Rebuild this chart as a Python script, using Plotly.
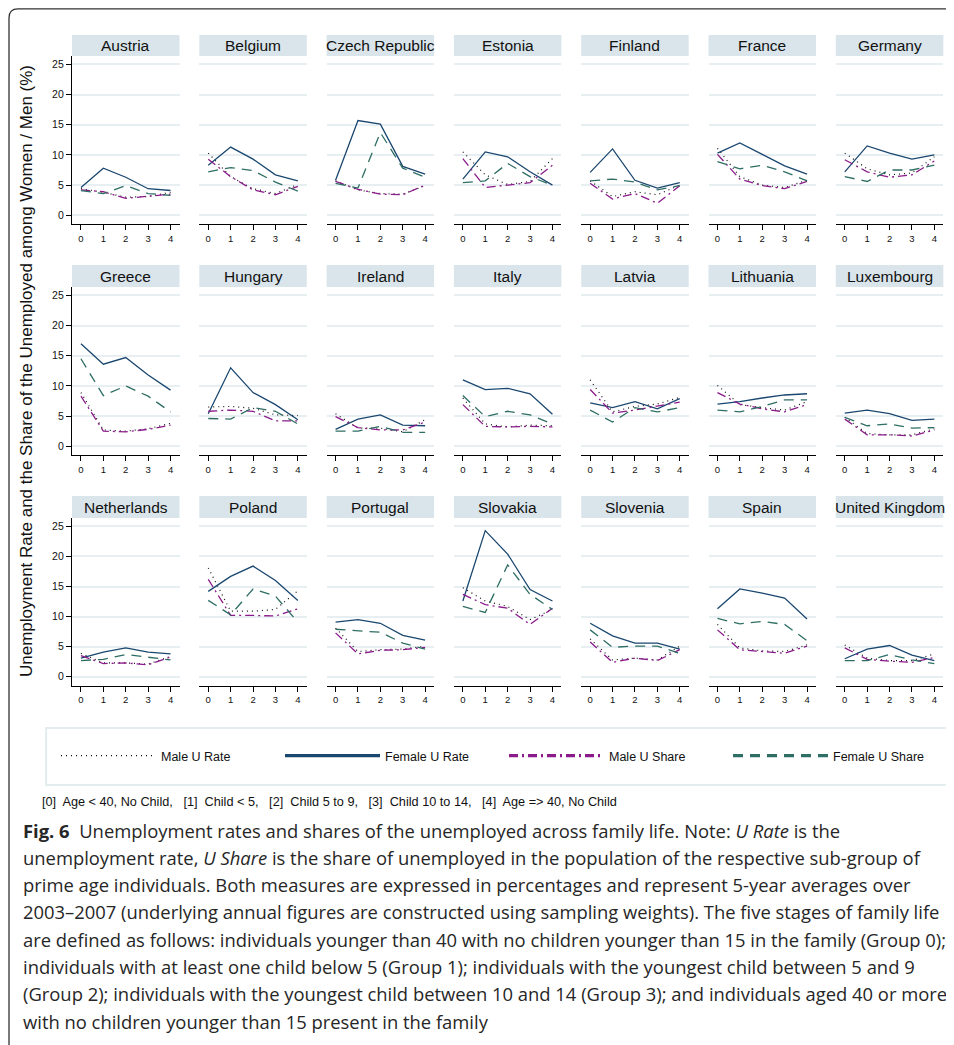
import plotly.graph_objects as go

countries = ["Austria", "Belgium", "Czech Republic", "Estonia", "Finland", "France", "Germany",
             "Greece", "Hungary", "Ireland", "Italy", "Latvia", "Lithuania", "Luxembourg",
             "Netherlands", "Poland", "Portugal", "Slovakia", "Slovenia", "Spain", "United Kingdom"]
stages = [0, 1, 2, 3, 4]

male_rate = [
    [4.4, 3.8, 3.0, 3.1, 3.8], [10.3, 6.4, 4.4, 3.6, 5.1], [5.7, 4.2, 3.6, 3.5, 4.9],
    [10.5, 6.7, 5.1, 5.6, 9.4], [5.7, 3.1, 3.9, 3.4, 5.0], [11.1, 6.4, 5.0, 4.6, 5.8],
    [10.3, 7.7, 6.7, 7.0, 9.7], [8.9, 2.7, 2.5, 2.9, 3.8], [6.5, 6.6, 6.3, 5.2, 5.1],
    [5.4, 3.0, 3.0, 2.4, 4.4], [8.0, 3.7, 3.2, 3.5, 3.4], [11.0, 5.7, 6.6, 7.0, 8.1],
    [10.1, 6.9, 6.4, 6.0, 7.4], [4.8, 2.1, 1.9, 1.9, 2.9], [3.9, 2.3, 2.3, 2.1, 3.4],
    [18.1, 10.9, 10.9, 11.2, 14.3], [8.1, 4.2, 4.5, 4.6, 5.1], [14.8, 12.6, 11.7, 9.5, 11.2],
    [6.3, 2.8, 3.1, 2.8, 5.1], [8.7, 4.8, 4.3, 4.2, 5.3], [5.3, 3.1, 2.7, 2.7, 3.8]]

female_rate = [
    [4.6, 7.8, 6.3, 4.4, 4.1], [8.3, 11.3, 9.3, 6.7, 5.7], [5.8, 15.7, 15.1, 8.1, 6.8],
    [6.0, 10.5, 9.7, 7.2, 5.0], [7.1, 11.0, 5.8, 4.5, 5.4], [10.3, 12.0, 10.1, 8.2, 6.8],
    [7.2, 11.5, 10.3, 9.3, 10.0], [17.0, 13.6, 14.7, 11.8, 9.3], [5.4, 13.0, 8.9, 6.9, 4.4],
    [2.8, 4.5, 5.2, 3.5, 3.4], [11.0, 9.4, 9.6, 8.7, 5.3], [7.2, 6.4, 7.4, 6.2, 7.9],
    [7.0, 7.4, 8.0, 8.5, 8.7], [5.5, 6.0, 5.4, 4.3, 4.5], [3.1, 4.1, 4.8, 4.1, 3.8],
    [14.2, 16.7, 18.4, 16.0, 12.7], [9.1, 9.5, 8.9, 6.9, 6.1], [12.6, 24.3, 20.4, 14.5, 12.6],
    [8.9, 6.8, 5.6, 5.6, 4.6], [11.3, 14.6, 13.9, 13.1, 9.6], [3.0, 4.6, 5.2, 3.6, 2.7]]

male_share = [
    [4.2, 3.9, 2.8, 3.1, 3.5], [9.3, 6.4, 4.2, 3.4, 4.8], [5.6, 4.3, 3.5, 3.4, 5.0],
    [9.4, 4.6, 5.0, 5.4, 8.3], [5.3, 2.7, 3.6, 2.0, 4.9], [10.1, 6.0, 4.9, 4.4, 5.6],
    [9.2, 7.2, 6.3, 6.7, 9.0], [8.3, 2.5, 2.4, 2.8, 3.5], [5.8, 6.0, 5.8, 4.2, 4.2],
    [4.9, 3.1, 2.7, 2.7, 4.0], [6.9, 3.3, 3.2, 3.3, 3.2], [9.4, 5.5, 6.0, 6.6, 7.3],
    [8.9, 7.0, 6.2, 5.7, 6.9], [4.5, 1.9, 1.9, 1.7, 2.7], [3.5, 2.2, 2.3, 2.0, 3.3],
    [16.2, 10.2, 10.2, 10.1, 11.3], [7.3, 3.8, 4.4, 4.5, 4.9], [13.7, 12.0, 11.4, 8.7, 11.4],
    [5.8, 2.4, 3.1, 2.7, 4.5], [7.8, 4.5, 4.2, 3.9, 5.1], [4.8, 2.9, 2.6, 2.4, 3.2]]

female_share = [
    [4.1, 3.6, 4.9, 3.6, 3.3], [7.2, 7.9, 7.4, 5.5, 4.0], [5.3, 4.5, 13.7, 7.8, 6.3],
    [5.4, 5.7, 8.6, 6.4, 5.0], [5.7, 6.0, 5.5, 4.2, 4.9], [8.9, 7.7, 8.3, 7.2, 5.7],
    [6.4, 5.6, 7.5, 7.5, 8.3], [14.5, 8.4, 10.0, 8.3, 5.7], [4.6, 4.5, 6.4, 5.8, 3.7],
    [2.5, 2.5, 3.3, 2.3, 2.3], [8.4, 4.9, 5.8, 5.2, 3.7], [6.0, 4.0, 6.4, 5.7, 6.4],
    [6.0, 5.7, 6.6, 7.7, 7.7], [4.8, 3.4, 3.7, 3.0, 3.1], [2.7, 2.9, 3.7, 3.2, 2.8],
    [12.7, 10.3, 14.6, 13.4, 9.1], [7.9, 7.7, 7.4, 5.6, 4.6], [11.7, 10.7, 18.6, 13.7, 11.2],
    [7.8, 4.9, 5.1, 5.1, 3.9], [9.7, 8.8, 9.2, 8.7, 6.0], [2.7, 2.7, 3.7, 2.8, 2.2]]

y_ticks = [0, 5, 10, 15, 20, 25]
series_names = ["Male U Rate", "Female U Rate", "Male U Share", "Female U Share"]

caption_lines = [
    "<b>Fig. 6</b>  Unemployment rates and shares of the unemployed across family life. Note: <i>U Rate</i> is the",
    "unemployment rate, <i>U Share</i> is the share of unemployed in the population of the respective sub-group of",
    "prime age individuals. Both measures are expressed in percentages and represent 5-year averages over",
    "2003–2007 (underlying annual figures are constructed using sampling weights). The five stages of family life",
    "are defined as follows: individuals younger than 40 with no children younger than 15 in the family (Group 0);",
    "individuals with at least one child below 5 (Group 1); individuals with the youngest child between 5 and 9",
    "(Group 2); individuals with the youngest child between 10 and 14 (Group 3); and individuals aged 40 or more",
    "with no children younger than 15 present in the family",
]
stage_note = "[0]  Age < 40, No Child,   [1]  Child < 5,   [2]  Child 5 to 9,   [3]  Child 10 to 14,   [4]  Age => 40, No Child"
y_title = "Unemployment Rate and the Share of the Unemployed among Women / Men (%)"

# ---------------- styling / geometry ----------------
# page body has an 8px margin: figure is sized to fit the window and
# positions below are given in window pixels
OFF = 8
FW, FH = 954 - OFF, 1045 - OFF
def px(x):
    return (x - OFF) / FW
def py(y):
    return 1 - (y - OFF) / FH

styles = [
    dict(color="#111111", width=1.2, dash="1px,4px"),
    dict(color="#1a476f", width=1.3, dash="solid"),
    dict(color="#8b1a8b", width=1.3, dash="9px,4px,2px,4px"),
    dict(color="#2e6e64", width=1.3, dash="10px,7px"),
]
legend_styles = [
    dict(color="#111111", width=1.2, dash="1px,4px"),
    dict(color="#1a476f", width=3.2, dash="solid"),
    dict(color="#8b1a8b", width=3.2, dash="9px,4px,2px,4px"),
    dict(color="#2e6e64", width=3.2, dash="10px,7px"),
]
all_series = [male_rate, female_rate, male_share, female_share]

col_x0 = [72 + i * 127.3 for i in range(7)]
panel_w = 107.5
row_top = [56, 287, 518]
row_bot = [224, 455, 685.5]
strip_top = [35, 265, 496]

SANS = "Liberation Sans, Arial, sans-serif"

fig = go.Figure()
layout = dict(
    width=FW, height=FH, margin=dict(l=0, r=0, t=0, b=0),
    paper_bgcolor="white", plot_bgcolor="white",
    showlegend=True,
)
shapes = []
annotations = []

for k, country in enumerate(countries):
    r, c = divmod(k, 7)
    xa = "xaxis" if k == 0 else f"xaxis{k+1}"
    ya = "yaxis" if k == 0 else f"yaxis{k+1}"
    xr = "x" if k == 0 else f"x{k+1}"
    yr = "y" if k == 0 else f"y{k+1}"
    x0, x1 = col_x0[c], col_x0[c] + panel_w
    layout[xa] = dict(
        domain=[px(x0), px(x1)], anchor=yr, range=[-0.4, 4.4],
        tickvals=stages, ticktext=[str(s) for s in stages],
        showgrid=False, zeroline=False, showline=True, linecolor="black", linewidth=1.3,
        ticks="outside", ticklen=5, tickwidth=1, tickcolor="black",
        tickfont=dict(family=SANS, size=9.5, color="#111"), fixedrange=True,
    )
    first = (c == 0)
    layout[ya] = dict(
        domain=[py(row_bot[r]), py(row_top[r])], anchor=xr, range=[-1.45, 26.4],
        tickvals=y_ticks, showticklabels=first,
        showgrid=True, gridcolor="#e7eff2", gridwidth=2, zeroline=False,
        showline=first, linecolor="black", linewidth=1.3,
        ticks="outside" if first else "", ticklen=5, tickwidth=1, tickcolor="black",
        tickfont=dict(family=SANS, size=10.5, color="#111"), fixedrange=True,
    )
    for s, (name, data, st) in enumerate(zip(series_names, all_series, styles)):
        fig.add_trace(go.Scatter(
            x=stages, y=data[k], mode="lines", name=name, line=st,
            xaxis=xr, yaxis=yr, showlegend=False, hoverinfo="skip",
        ))
    # strip
    shapes.append(dict(type="rect", xref="paper", yref="paper",
                       x0=px(x0), x1=px(x1), y0=py(row_top[r]), y1=py(strip_top[r]),
                       fillcolor="#d9e5eb", line=dict(width=0), layer="below"))
    annotations.append(dict(text=country, xref="paper", yref="paper",
                            x=px((x0 + x1) / 2), y=py((row_top[r] + strip_top[r]) / 2),
                            xanchor="center", yanchor="middle", showarrow=False,
                            font=dict(family=SANS, size=15.5, color="#111")))

# legend entries (no data)
for name, st in zip(series_names, legend_styles):
    fig.add_trace(go.Scatter(x=[None], y=[None], mode="lines", name=name, line=st,
                             showlegend=True, hoverinfo="skip"))

layout["legend"] = dict(
    orientation="h", x=px(56), y=py(756), xanchor="left", yanchor="middle",
    bgcolor="rgba(0,0,0,0)", borderwidth=0, itemwidth=95, entrywidth=114,
    font=dict(family=SANS, size=12.5, color="#111"),
)
shapes.append(dict(type="rect", xref="paper", yref="paper",
                   x0=px(46), x1=px(948), y0=py(785), y1=py(728),
                   line=dict(color="#e3ecef", width=2), fillcolor="rgba(0,0,0,0)"))

# frame (top-left rounded corner)
fx, fy = px(9), py(8.8)
path = (f"M {fx},{-0.01} L {fx},{py(18)} Q {fx},{fy} {px(18)},{fy} L {1.01},{fy}")
shapes.append(dict(type="path", xref="paper", yref="paper", path=path,
                   line=dict(color="#333333", width=1.3)))

# y-axis title
annotations.append(dict(text=y_title, xref="paper", yref="paper", x=px(27), y=py(371),
                        xanchor="center", yanchor="middle", textangle=-90, showarrow=False,
                        font=dict(family=SANS, size=17, color="#111")))
# stage note
annotations.append(dict(text=stage_note, xref="paper", yref="paper", x=px(40), y=py(802),
                        xanchor="left", yanchor="middle", showarrow=False,
                        font=dict(family=SANS, size=12.7, color="#111")))
# caption
for i, line in enumerate(caption_lines):
    annotations.append(dict(text=line, xref="paper", yref="paper", x=px(21), y=py(830 + i * 27.3),
                            xanchor="left", yanchor="middle", showarrow=False,
                            font=dict(family="Open Sans, sans-serif", size=18.4, color="#262626")))

layout["shapes"] = shapes
layout["annotations"] = annotations
fig.update_layout(**layout)
fig.write_html("out.html")
